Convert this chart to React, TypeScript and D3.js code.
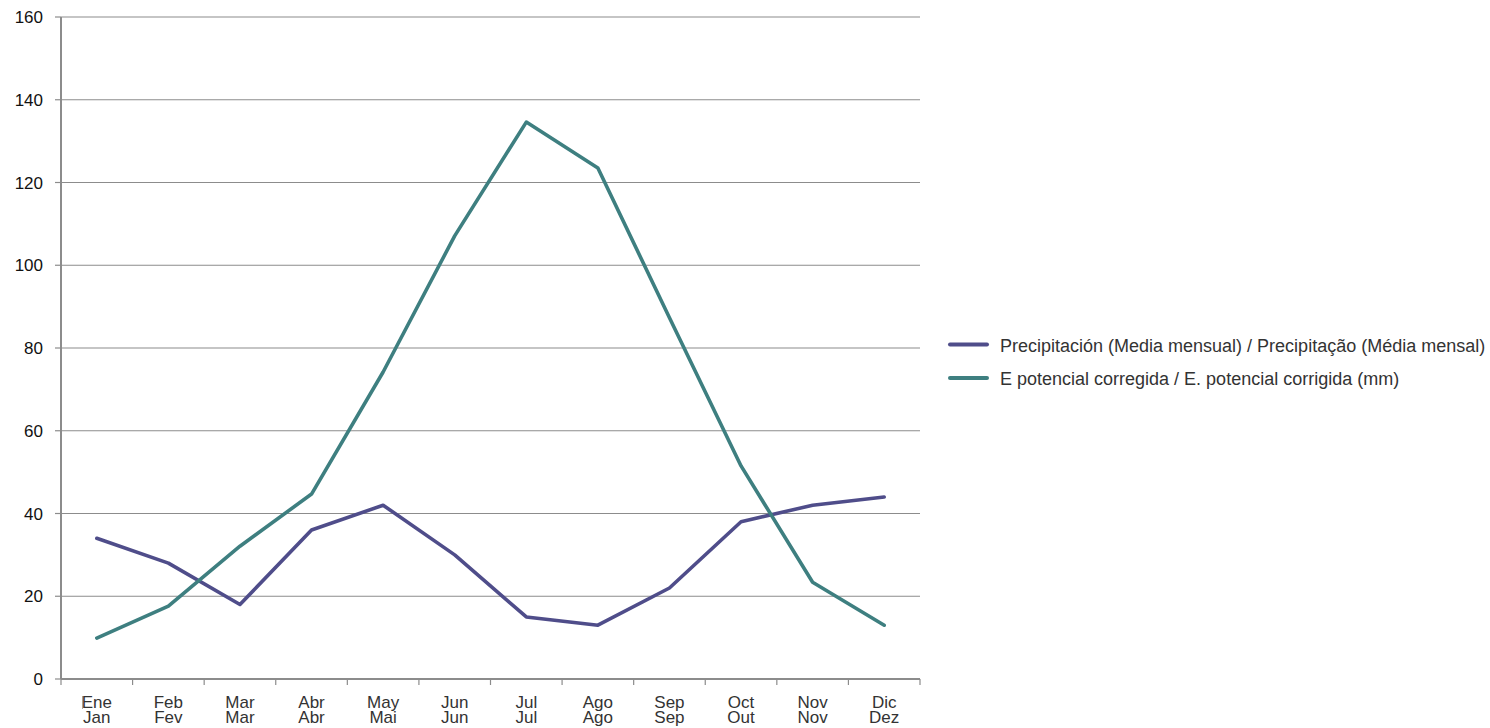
import React, { useEffect, useRef } from "react";
import * as d3 from "d3";

const monthsEs = ["Ene", "Feb", "Mar", "Abr", "May", "Jun", "Jul", "Ago", "Sep", "Oct", "Nov", "Dic"];
const monthsPt = ["Jan", "Fev", "Mar", "Abr", "Mai", "Jun", "Jul", "Ago", "Sep", "Out", "Nov", "Dez"];
const precipitacion = [34, 28, 18, 36, 42, 30, 15, 13, 22, 38, 42, 44];
const etpCorregida = [9.9, 17.6, 32.1, 44.7, 74.2, 107.1, 134.6, 123.5, 87.3, 51.5, 23.4, 13];
const yTicks = [0, 20, 40, 60, 80, 100, 120, 140, 160];
const seriesNames = [
  "Precipitación (Media mensual) / Precipitação (Média mensal)",
  "E potencial corregida / E. potencial corrigida (mm)",
];
const seriesColors = ["#4f4d8a", "#3e7f80"];

export default function App() {
  const ref = useRef<SVGSVGElement>(null);
  useEffect(() => {
    const svg = d3.select(ref.current);
    svg.selectAll("*").remove();
    const left = 61, right = 920, top = 17, bottom = 679;
    const x = d3.scaleBand<string>().domain(monthsEs).range([left, right]);
    const y = d3.scaleLinear().domain([0, 160]).range([bottom, top]);
    const font = "'Liberation Sans', Arial, Helvetica, sans-serif";

    // gridlines
    svg.append("g").selectAll("line").data(yTicks.filter((t) => t > 0)).join("line")
      .attr("x1", left).attr("x2", right)
      .attr("y1", (d) => y(d)).attr("y2", (d) => y(d))
      .attr("stroke", "#8c8c8c").attr("stroke-width", 1.2);

    // y tick marks
    svg.append("g").selectAll("line").data(yTicks).join("line")
      .attr("x1", left - 6).attr("x2", left)
      .attr("y1", (d) => y(d)).attr("y2", (d) => y(d))
      .attr("stroke", "#8c8c8c").attr("stroke-width", 1.2);

    // y labels
    svg.append("g").selectAll("text").data(yTicks).join("text")
      .attr("x", 43).attr("y", (d) => y(d) + 6)
      .attr("text-anchor", "end")
      .attr("font-family", font).attr("font-size", 17).attr("fill", "#111")
      .text((d) => d);

    // x tick marks
    const xTickPos = monthsEs.map((m) => x(m) as number).concat([right]);
    svg.append("g").selectAll("line").data(xTickPos).join("line")
      .attr("x1", (d) => d).attr("x2", (d) => d)
      .attr("y1", bottom).attr("y2", bottom + 6)
      .attr("stroke", "#8c8c8c").attr("stroke-width", 1.2);

    // axes lines
    svg.append("line").attr("x1", left).attr("x2", left).attr("y1", top).attr("y2", bottom)
      .attr("stroke", "#8c8c8c").attr("stroke-width", 2);
    svg.append("line").attr("x1", left).attr("x2", right).attr("y1", bottom).attr("y2", bottom)
      .attr("stroke", "#8c8c8c").attr("stroke-width", 2);

    // small stray mark before first label
    svg.append("line").attr("x1", 82.5).attr("x2", 82.5).attr("y1", 696).attr("y2", 709)
      .attr("stroke", "#aaa").attr("stroke-width", 1);

    // x labels
    const xl = svg.append("g").selectAll("text").data(monthsEs).join("text")
      .attr("text-anchor", "middle")
      .attr("font-family", font).attr("font-size", 17).attr("fill", "#333");
    xl.append("tspan").attr("x", (d) => (x(d) as number) + x.bandwidth() / 2).attr("y", 708).text((d) => d);
    xl.append("tspan").attr("x", (d) => (x(d) as number) + x.bandwidth() / 2).attr("y", 723)
      .text((d, i) => monthsPt[i]);

    const cx = (i: number) => (x(monthsEs[i]) as number) + x.bandwidth() / 2;
    const line = d3.line<number>().x((d, i) => cx(i)).y((d) => y(d));
    [precipitacion, etpCorregida].forEach((s, k) => {
      svg.append("path").attr("d", line(s) as string)
        .attr("fill", "none").attr("stroke", seriesColors[k]).attr("stroke-width", 3.6)
        .attr("stroke-linejoin", "round").attr("stroke-linecap", "round");
    });

    // legend
    const lg = svg.append("g").selectAll("g").data(seriesNames).join("g")
      .attr("transform", (d, i) => `translate(950, ${344.5 + i * 33.5})`);
    lg.append("line").attr("x1", 0).attr("x2", 37).attr("y1", 0).attr("y2", 0)
      .attr("stroke", (d, i) => seriesColors[i]).attr("stroke-width", 4).attr("stroke-linecap", "round");
    lg.append("text").attr("x", 50).attr("y", 7)
      .attr("font-family", font).attr("font-size", 18).attr("fill", "#333")
      .text((d) => d);
  }, []);
  return (
    <svg ref={ref} width={1490} height={728}
      style={{ position: "absolute", left: 0, top: 0, background: "#fff" }} />
  );
}
